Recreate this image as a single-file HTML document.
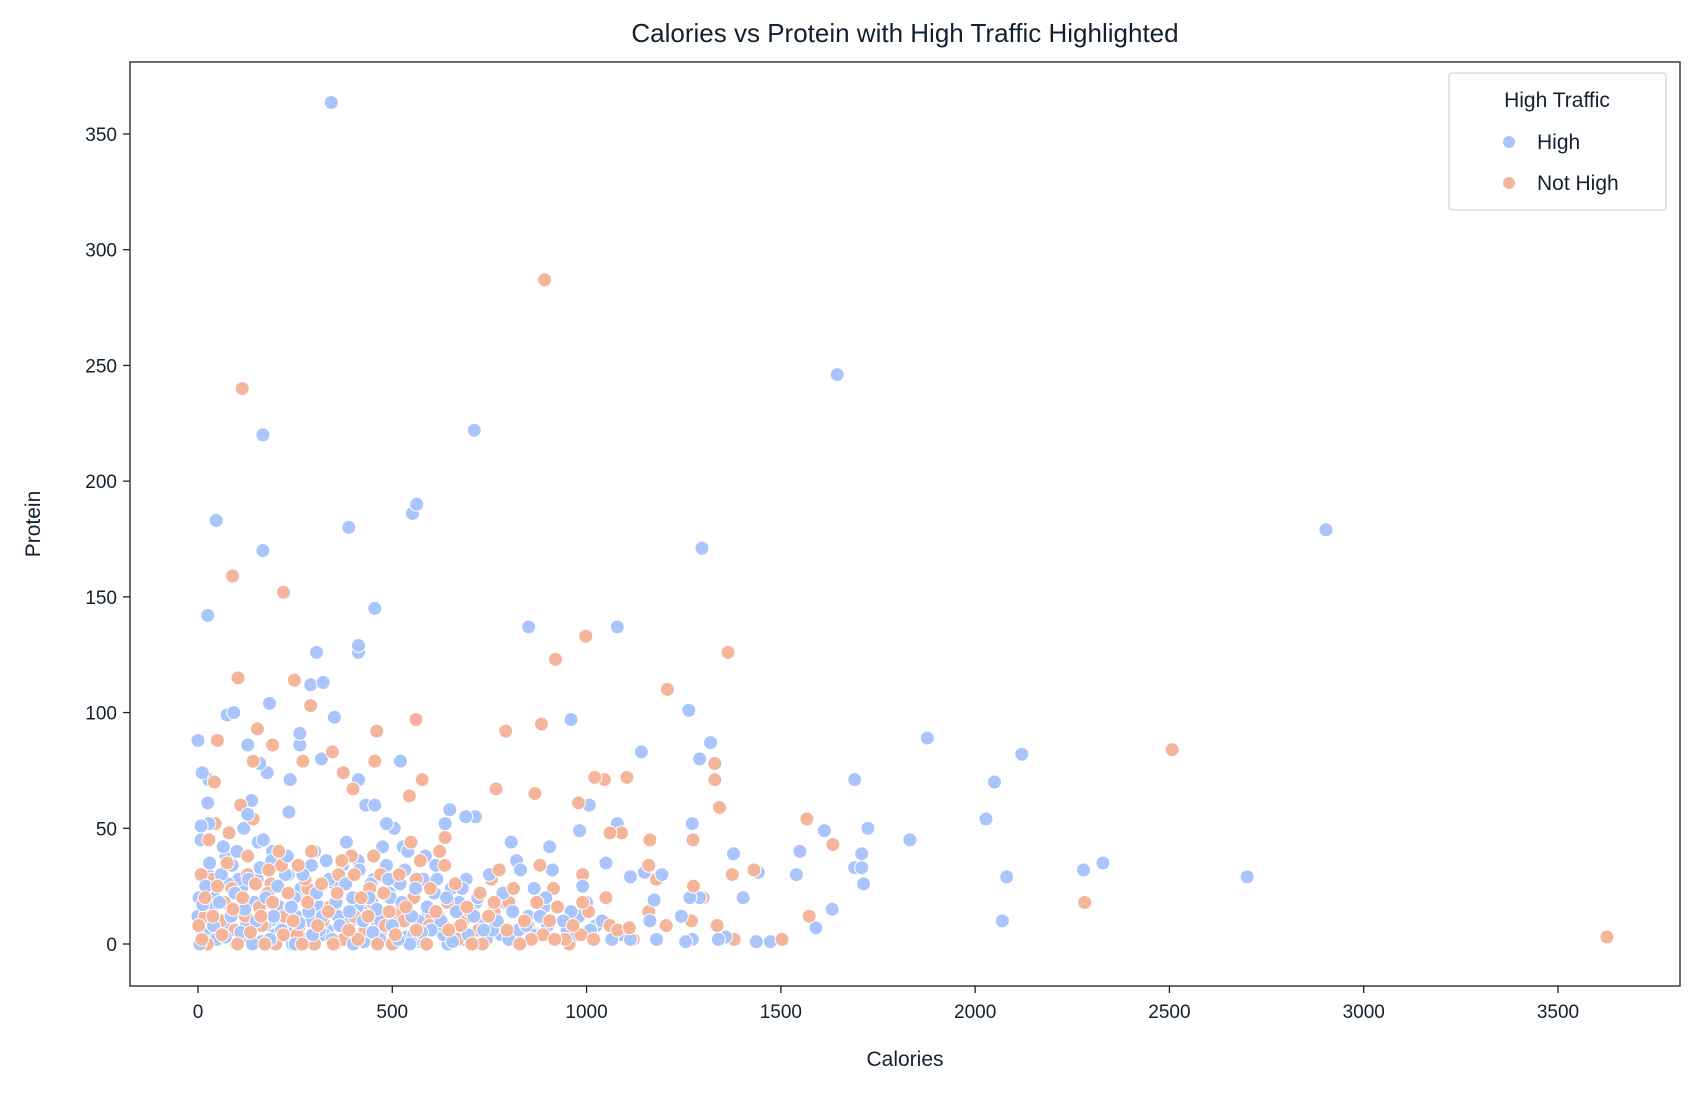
<!DOCTYPE html>
<html><head><meta charset="utf-8"><style>
html,body{margin:0;padding:0;background:#fff;}
svg text{font-family:"Liberation Sans",sans-serif;fill:#13202f;}
</style></head><body>
<svg id="chart" width="1699" height="1092" xmlns="http://www.w3.org/2000/svg">
<rect width="1699" height="1092" fill="#fff"/>
<text x="905" y="42" font-size="26" text-anchor="middle">Calories vs Protein with High Traffic Highlighted</text>
<g id="marks"></g>
<g id="axes"></g>
<rect x="130" y="62" width="1550" height="924" fill="none" stroke="#13202f" stroke-width="1.3"/>
<text x="905" y="1066" font-size="21" text-anchor="middle">Calories</text>
<text x="0" y="0" font-size="21" text-anchor="middle" transform="translate(40,524) rotate(-90)">Protein</text>
<g>
<rect x="1449" y="73" width="217" height="137" rx="3" fill="#fff" stroke="#ccc" stroke-width="1"/>
<text x="1557" y="107" font-size="21" text-anchor="middle">High Traffic</text>
<circle cx="1509" cy="142" r="6.5" fill="#a9c5fb" stroke="#fff"/>
<text x="1537" y="149" font-size="21">High</text>
<circle cx="1509" cy="183" r="6.5" fill="#f5b59a" stroke="#fff"/>
<text x="1537" y="190" font-size="21">Not High</text>
</g>
</svg>
<script>
const xTicks=[0,500,1000,1500,2000,2500,3000,3500];
const yTicks=[0,50,100,150,200,250,300,350];
const highCal=[343,167,711,1645,47,388,563,552,1297,2903,167,25,455,851,1079,413,413,305,322,290,92,75,184,351,960,1263,1877,2120,0,128,262,262,1319,1291,318,1141,11,28,1690,2050,237,413,159,521,25,455,1007,128,234,2028,689,714,8,28,485,636,1079,1272,1612,982,1724,1832,806,382,1549,1378,1708,2329,2279,1708,1690,2081,2700,1113,1540,1442,1194,1149,1713,1403,1632,2070,1590,1437,1473,1113,1180,1339,1358,1255,1272,1163,1174,1244,1266,1291,
5,12,20,30,8,40,55,60,70,85,95,100,110,120,130,140,150,160,175,185,195,205,215,230,240,250,260,270,285,295,305,320,330,345,355,365,380,390,400,415,425,440,450,460,475,490,500,515,525,540,550,560,575,590,600,615,625,640,655,665,680,695,710,720,735,750,770,785,800,810,830,845,860,880,895,905,920,940,960,975,990,1010,1040,1065,1090,22,48,78,118,138,168,178,198,225,248,275,300,312,338,372,398,432,468,485,505,528,545,568,585,608,632,648,672,700,730,758,790,820,850,870,890,912,950,980,1000,1025,1050,1100,3,15,35,65,88,105,125,145,155,190,210,235,265,290,325,360,385,410,445,470,495,520,555,580,620,660,690,715,742,780,825,865,900,
10,26,42,58,72,92,112,132,152,172,192,212,232,252,272,292,312,332,352,372,392,412,432,452,472,492,512,532,552,572,592,612,632,652,0,33,67,98,133,163,202,243,283,318,353,393,427,463,503,537,573,607,643,683];
const highProt=[363.6,220,222,246,183,180,190,186,171,179,170,142,145,137,137,129,126,126,113,112,100,99,104,98,97,101,89,82,88,86,91,86,87,80,80,83,74,71,71,70,71,71,78,79,61,60,60,56,57,54,55,55,51,52,52,52,52,52,49,49,50,45,44,44,40,39,39,35,32,33,33,29,29,29,30,31,30,31,26,20,15,10,7,1,1,2,2,2,3,1,2,10,19,12,20,20,
0,17,25,35,45,8,18,30,3,12,22,40,5,15,28,0,10,33,20,2,12,25,6,38,16,0,9,30,14,4,22,12,36,2,18,8,26,14,0,32,10,20,5,15,42,28,8,2,18,40,12,24,5,16,6,28,10,20,1,14,24,4,12,20,6,30,10,22,2,14,32,8,4,12,20,42,2,10,14,4,25,6,10,2,4,10,2,26,50,62,45,74,4,30,20,2,40,6,28,34,20,60,2,34,50,42,0,10,38,22,8,58,18,2,10,6,18,36,12,4,16,32,6,12,18,8,35,4,20,6,15,42,34,28,8,18,44,36,16,8,24,10,4,12,4,16,26,10,20,26,4,28,12,4,28,18,2,4,6,24,8,
6,30,20,10,38,14,24,2,28,8,40,6,30,12,20,34,16,6,26,2,10,36,16,28,6,22,12,32,20,2,14,34,4,24,12,2,8,0,4,1,10,0,2,6,0,4,1,8,0,3,1,7,0,2];
const notCal=[892,114,89,220,998,1364,920,1208,103,248,884,561,290,2507,153,460,792,50,346,192,1330,1330,1021,1104,1046,577,374,455,270,142,42,1342,979,544,399,767,867,1567,1634,1060,1090,1163,1274,636,1431,1375,1160,2282,990,1573,1336,1205,1503,3626,1110,1018,918,1275,
2,10,18,28,38,50,62,75,90,102,115,128,135,148,162,172,182,192,208,220,232,245,258,268,282,292,308,318,335,348,358,370,388,402,412,420,438,452,462,478,492,508,518,535,548,562,572,588,598,612,622,645,662,676,692,705,726,732,748,762,775,795,812,828,840,858,872,888,905,925,945,965,985,1005,1050,1080,1120,1160,1180,1270,1300,1380,8,24,44,58,80,95,110,122,142,165,180,200,215,238,255,275,300,340,375,395,430,448,470,500,530,555,595,635,668,700,755,800,850,880,915,955,990,1060,
18,38,68,87,128,158,188,222,262,282,322,362,402,442,482,522,562,602,642,682,722,762];
const notProt=[287,240,159,152,133,126,123,110,115,114,95,97,103,84,93,92,92,88,83,86,78,71,72,72,71,71,74,79,79,79,70,59,61,64,67,67,65,54,43,48,48,45,45,46,32,30,34,18,18,12,8,8,2,3,7,2,2,25,
8,2,20,45,12,25,4,35,15,0,20,38,5,26,12,0,32,18,40,4,22,10,34,0,18,40,8,26,14,0,22,36,6,30,2,20,12,38,0,22,14,4,30,16,44,6,36,0,24,14,40,6,26,8,16,0,22,0,12,18,32,6,24,0,10,2,18,4,10,16,2,8,4,14,20,6,2,14,28,10,20,2,30,0,52,10,48,6,60,12,54,8,22,0,34,16,4,28,0,16,2,38,6,18,30,0,10,20,8,34,2,14,28,18,8,34,24,0,30,8,
12,28,18,24,30,16,26,12,8,24,10,30,12,24,8,14,28,12,18,10,6,14];

const X0=198,XS=1360/3500,Y0=944,YS=810/350;
function xs(v){return X0+v*XS;}
function ys(v){return Y0-v*YS;}
const NS='http://www.w3.org/2000/svg';
const marks=document.getElementById('marks');
const axes=document.getElementById('axes');
function dot(c,p,fill,name){
  const el=document.createElementNS(NS,'circle');
  el.setAttribute('cx',xs(c));el.setAttribute('cy',ys(p));el.setAttribute('r',7);
  el.setAttribute('fill',fill);el.setAttribute('stroke','#fff');el.setAttribute('stroke-width','1');
  
  
  marks.appendChild(el);
}
const n=Math.max(highCal.length,notCal.length);
for(let i=n-1;i>=0;i--){
  if(i<notCal.length) dot(notCal[i],notProt[i],'#f5b59a','point-not-high');
  if(i<highCal.length) dot(highCal[i],highProt[i],'#a9c5fb','point-high');
}
xTicks.forEach(t=>{
  const l=document.createElementNS(NS,'line');
  l.setAttribute('x1',xs(t));l.setAttribute('x2',xs(t));l.setAttribute('y1',986);l.setAttribute('y2',993);
  l.setAttribute('stroke','#13202f');l.setAttribute('stroke-width','1.3');
  
  
  axes.appendChild(l);
  const tx=document.createElementNS(NS,'text');
  tx.setAttribute('x',xs(t));tx.setAttribute('y',1018);tx.setAttribute('font-size','19');tx.setAttribute('text-anchor','middle');
  tx.textContent=t;
  
  
  axes.appendChild(tx);
});
yTicks.forEach(t=>{
  const l=document.createElementNS(NS,'line');
  l.setAttribute('x1',123);l.setAttribute('x2',130);l.setAttribute('y1',ys(t));l.setAttribute('y2',ys(t));
  l.setAttribute('stroke','#13202f');l.setAttribute('stroke-width','1.3');
  
  
  axes.appendChild(l);
  const tx=document.createElementNS(NS,'text');
  tx.setAttribute('x',117);tx.setAttribute('y',ys(t)+7);tx.setAttribute('font-size','19');tx.setAttribute('text-anchor','end');
  tx.textContent=t;
  
  
  axes.appendChild(tx);
});
</script>
</body></html>
